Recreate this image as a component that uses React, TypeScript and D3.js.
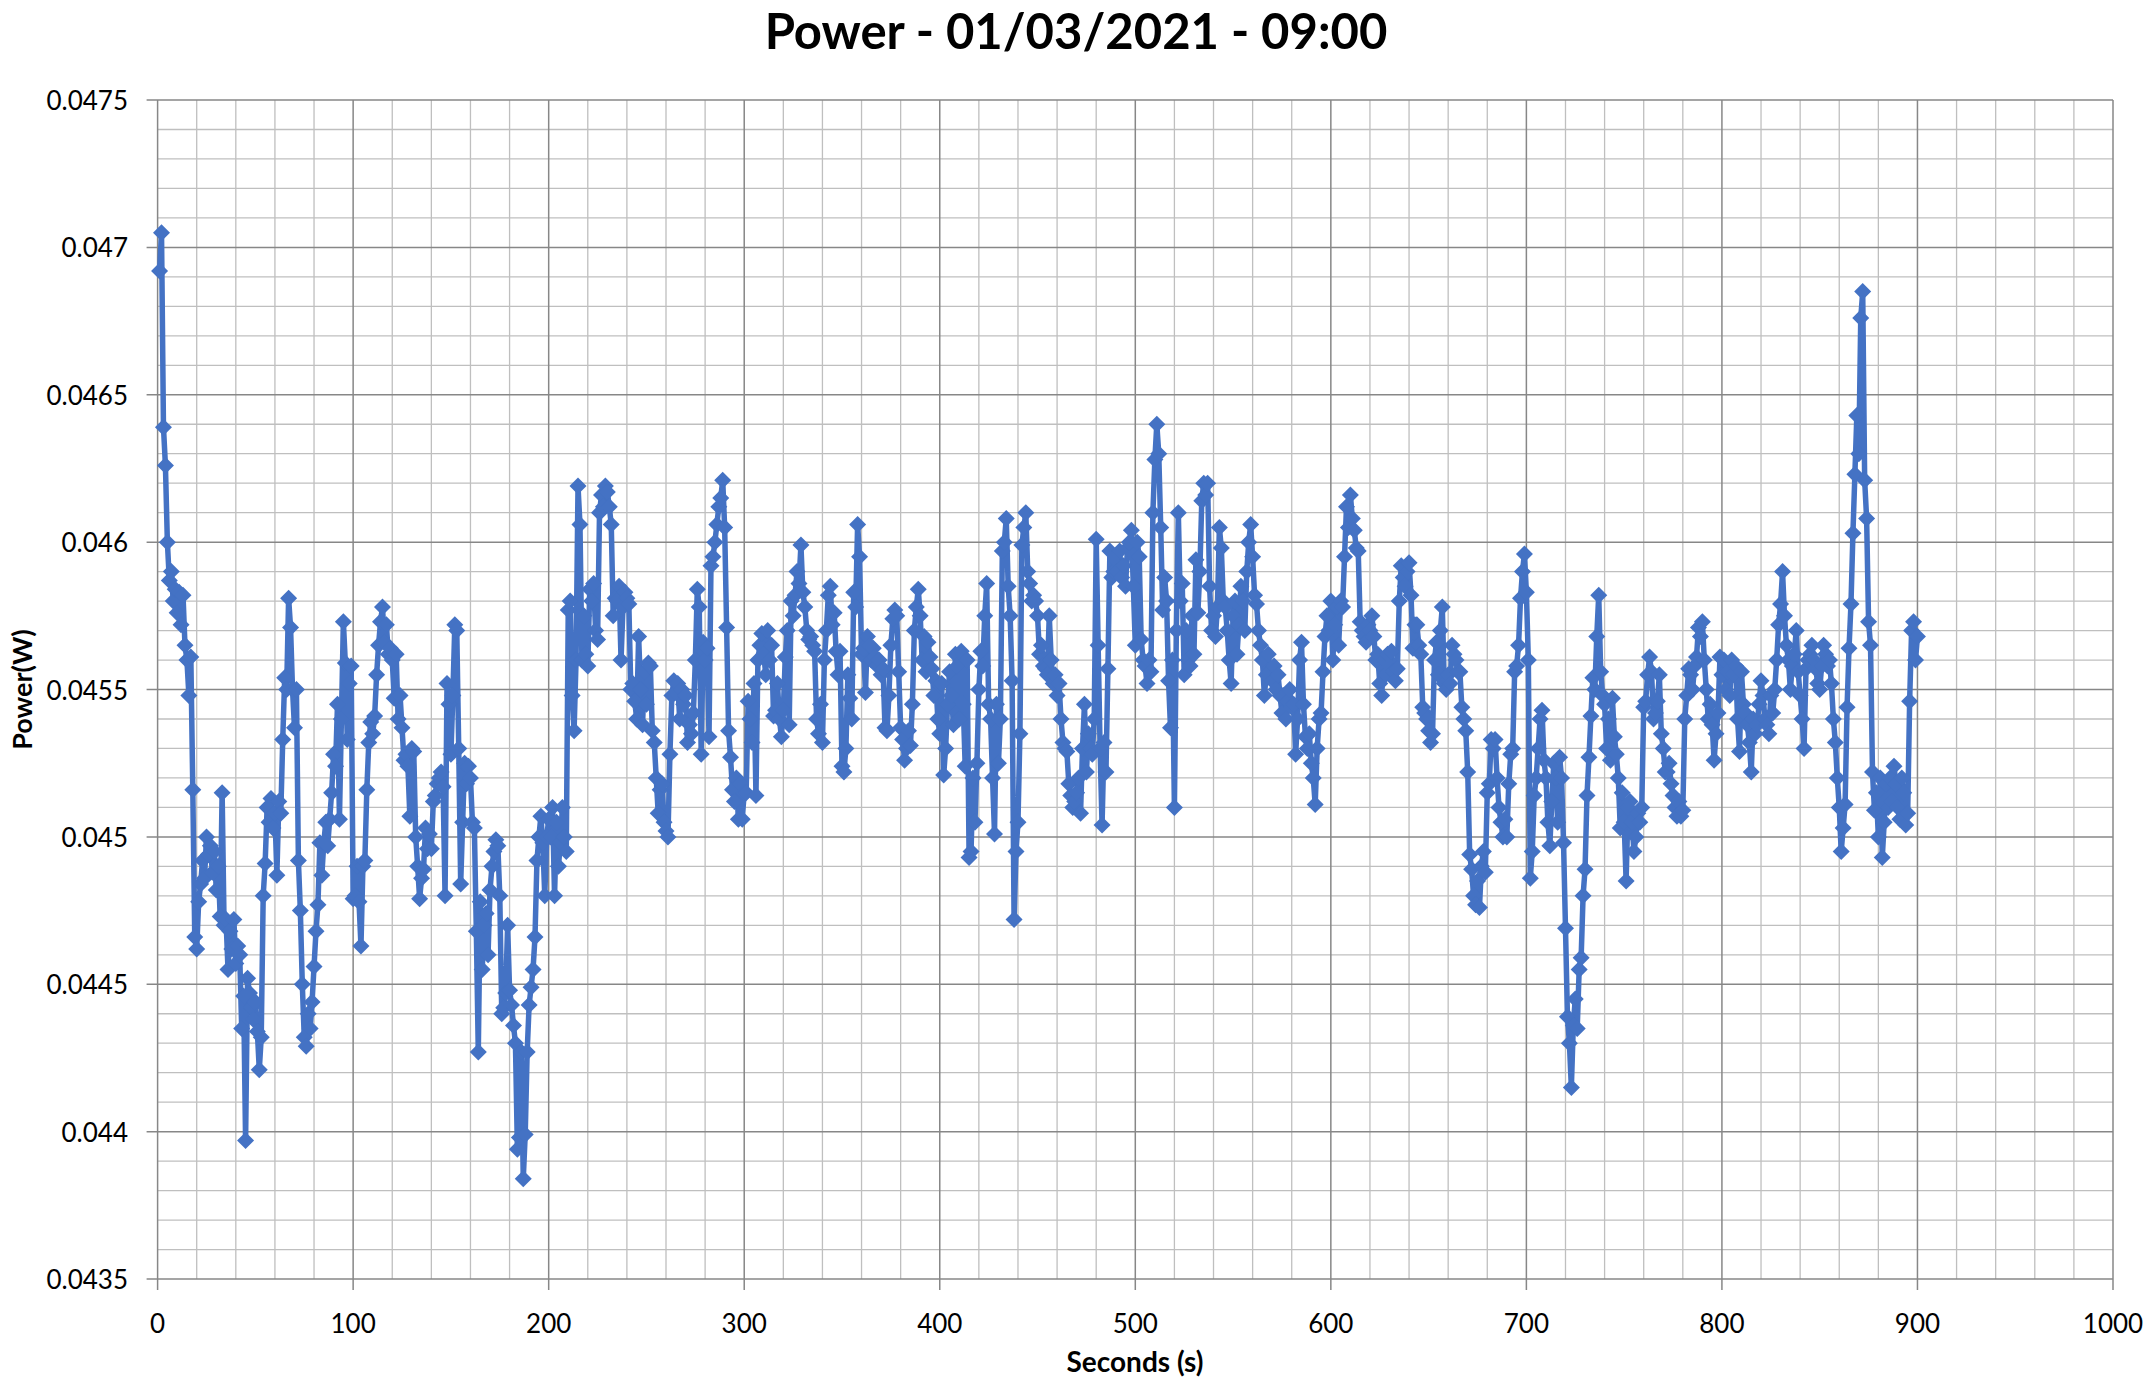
import React from "react";
import * as d3 from "d3";

// Power readings in milliwatts, one per second (t = 1..900)
const seg001 = [
  46.92, 47.05, 46.39, 46.26, 46.0, 45.87, 45.9, 45.8, 45.84, 45.76,
  45.83, 45.72, 45.82, 45.65, 45.6, 45.48, 45.61, 45.16, 44.66, 44.62,
  44.78, 44.84, 44.92, 44.86, 45.0, 44.94, 44.97, 44.88, 44.95, 44.82,
  44.9, 44.73, 45.15, 44.7, 44.72, 44.55, 44.68, 44.62, 44.72, 44.57,
  44.63, 44.6, 44.35, 44.46, 43.97, 44.52, 44.47, 44.42, 44.38, 44.44,
  44.34, 44.21, 44.32, 44.8, 44.91, 45.1, 45.05, 45.13, 45.03, 45.08,
  44.87, 45.12, 45.08, 45.33, 45.54, 45.5, 45.81, 45.71, 45.5, 45.37,
  45.5, 44.92, 44.75, 44.5, 44.32, 44.29, 44.4, 44.35, 44.44, 44.56,
  44.68, 44.77, 44.98, 44.87, 44.98, 45.05, 44.97, 45.06, 45.15, 45.28,
  45.24, 45.45, 45.06, 45.4, 45.73, 45.59, 45.33, 45.52, 45.58, 44.79,
];
const seg101 = [
  44.8, 44.9, 44.78, 44.63, 44.9, 44.92, 45.16, 45.32, 45.39, 45.35,
  45.41, 45.55, 45.65, 45.73, 45.78, 45.66, 45.72, 45.62, 45.64, 45.6,
  45.47, 45.62, 45.4, 45.48, 45.37, 45.26, 45.28, 45.24, 45.07, 45.3,
  45.29, 45.0, 44.9, 44.79, 44.86, 44.89, 45.03, 44.96, 45.01, 44.96,
  45.12, 45.14, 45.18, 45.2, 45.22, 45.17, 44.8, 45.52, 45.45, 45.28,
  45.48, 45.72, 45.7, 45.3, 44.84, 45.05, 45.25, 45.18, 45.24, 45.2,
  45.05, 45.03, 44.68, 44.27, 44.78, 44.55, 44.7, 44.74, 44.6, 44.82,
  44.9, 44.95, 44.99, 44.97, 44.8, 44.4, 44.42, 44.47, 44.7, 44.48,
  44.43, 44.36, 44.3, 43.94, 43.98, 44.27, 43.84, 43.99, 44.27, 44.43,
  44.49, 44.55, 44.66, 44.92, 45.0, 45.07, 44.98, 44.8, 45.0, 45.06,
];
const seg201 = [
  45.0, 45.1, 44.8, 45.05, 44.9, 44.98, 45.1, 45.0, 44.95, 45.77,
  45.8, 45.48, 45.36, 45.6, 46.19, 46.06, 45.6, 45.75, 45.62, 45.58,
  45.84, 45.8, 45.86, 45.7, 45.67, 46.1, 46.16, 46.12, 46.19, 46.17,
  46.12, 46.06, 45.75, 45.81, 45.8, 45.85, 45.6, 45.78, 45.83, 45.81,
  45.79, 45.5, 45.52, 45.46, 45.4, 45.68, 45.5, 45.38, 45.56, 45.45,
  45.59, 45.58, 45.36, 45.32, 45.2, 45.08, 45.16, 45.18, 45.05, 45.02,
  45.0, 45.28, 45.48, 45.53, 45.49, 45.52, 45.4, 45.5, 45.45, 45.48,
  45.32, 45.38, 45.35, 45.42, 45.6, 45.84, 45.78, 45.28, 45.66, 45.6,
  45.64, 45.34, 45.92, 45.95, 46.0, 46.06, 46.12, 46.15, 46.21, 46.05,
  45.71, 45.36, 45.27, 45.16, 45.12, 45.2, 45.06, 45.18, 45.06, 45.15,
];
const seg301 = [
  45.15, 45.46, 45.4, 45.32, 45.52, 45.14, 45.6, 45.65, 45.69, 45.62,
  45.55, 45.7, 45.6, 45.65, 45.41, 45.43, 45.52, 45.4, 45.34, 45.43,
  45.61, 45.7, 45.38, 45.8, 45.75, 45.82, 45.9, 45.86, 45.99, 45.83,
  45.78, 45.7, 45.67, 45.68, 45.65, 45.63, 45.4, 45.35, 45.45, 45.32,
  45.6, 45.7, 45.82, 45.85, 45.72, 45.76, 45.63, 45.55, 45.63, 45.24,
  45.22, 45.3, 45.55, 45.47, 45.4, 45.83, 45.78, 46.06, 45.95, 45.62,
  45.64, 45.49, 45.68, 45.65, 45.6, 45.64, 45.61, 45.58, 45.6, 45.55,
  45.57, 45.37, 45.36, 45.48, 45.65, 45.74, 45.77, 45.75, 45.56, 45.37,
  45.33, 45.26, 45.3, 45.36, 45.31, 45.45, 45.7, 45.78, 45.84, 45.75,
  45.6, 45.68, 45.56, 45.66, 45.61, 45.57, 45.48, 45.53, 45.4, 45.35,
];
const seg401 = [
  45.52, 45.21, 45.3, 45.45, 45.56, 45.48, 45.38, 45.62, 45.58, 45.4,
  45.63, 45.45, 45.24, 45.6, 44.93, 44.95, 45.2, 45.05, 45.25, 45.5,
  45.63, 45.58, 45.75, 45.86, 45.45, 45.4, 45.2, 45.01, 45.45, 45.25,
  45.4, 45.97, 46.0, 46.08, 45.85, 45.75, 45.53, 44.72, 44.95, 45.05,
  45.35, 45.99, 46.05, 46.1, 45.9, 45.86, 45.8, 45.82, 45.8, 45.75,
  45.62, 45.65, 45.58, 45.57, 45.55, 45.75, 45.6, 45.52, 45.55, 45.48,
  45.52, 45.4, 45.32, 45.3, 45.29, 45.18, 45.14, 45.1, 45.12, 45.15,
  45.2, 45.08, 45.3, 45.45, 45.22, 45.35, 45.3, 45.28, 45.4, 46.01,
  45.65, 45.3, 45.04, 45.32, 45.22, 45.57, 45.97, 45.88, 45.9, 45.94,
  45.9, 45.97, 45.88, 45.92, 45.85, 45.98, 46.0, 46.04, 45.85, 45.65,
];
const seg501 = [
  46.0, 45.95, 45.67, 45.6, 45.58, 45.52, 45.6, 45.56, 46.1, 46.28,
  46.4, 46.3, 46.05, 45.77, 45.88, 45.8, 45.53, 45.37, 45.6, 45.1,
  45.7, 46.1, 45.8, 45.86, 45.55, 45.7, 45.6, 45.58, 45.75, 45.62,
  45.94, 45.76, 45.9, 46.14, 46.2, 46.16, 46.2, 45.85, 45.7, 45.75,
  45.68, 45.78, 46.05, 45.98, 45.8, 45.78, 45.7, 45.6, 45.52, 45.75,
  45.8, 45.62, 45.72, 45.85, 45.8, 45.7, 45.9, 46.0, 46.06, 45.95,
  45.82, 45.79, 45.7, 45.65, 45.6, 45.48, 45.55, 45.62, 45.56, 45.53,
  45.58, 45.5, 45.55, 45.48, 45.42, 45.48, 45.4, 45.46, 45.5, 45.44,
  45.45, 45.28, 45.4, 45.6, 45.66, 45.45, 45.34, 45.3, 45.35, 45.25,
  45.2, 45.11, 45.3, 45.4, 45.42, 45.56, 45.68, 45.75, 45.7, 45.8,
];
const seg601 = [
  45.6, 45.72, 45.78, 45.65, 45.8, 45.78, 45.95, 46.12, 46.05, 46.16,
  46.08, 46.04, 45.98, 45.97, 45.73, 45.7, 45.68, 45.66, 45.72, 45.7,
  45.75, 45.68, 45.6, 45.62, 45.52, 45.48, 45.6, 45.55, 45.62, 45.58,
  45.63, 45.56, 45.53, 45.57, 45.8, 45.92, 45.88, 45.85, 45.9, 45.93,
  45.82, 45.64, 45.72, 45.72, 45.65, 45.62, 45.44, 45.42, 45.4, 45.36,
  45.32, 45.35, 45.6, 45.66, 45.55, 45.7, 45.78, 45.52, 45.5, 45.55,
  45.52, 45.65, 45.62, 45.6, 45.56, 45.56, 45.44, 45.4, 45.36, 45.22,
  44.94, 44.89, 44.8, 44.77, 44.85, 44.76, 44.9, 44.95, 44.88, 45.15,
  45.18, 45.33, 45.3, 45.33, 45.2, 45.1, 45.05, 45.0, 45.06, 45.0,
  45.18, 45.28, 45.3, 45.56, 45.58, 45.65, 45.81, 45.9, 45.96, 45.83,
];
const seg701 = [
  45.6, 44.86, 44.95, 45.14, 45.2, 45.3, 45.4, 45.43, 45.26, 45.2,
  45.05, 44.97, 45.12, 45.25, 45.2, 45.05, 45.27, 45.2, 44.98, 44.69,
  44.39, 44.3, 44.15, 44.36, 44.45, 44.35, 44.55, 44.59, 44.8, 44.89,
  45.14, 45.27, 45.41, 45.54, 45.5, 45.68, 45.82, 45.56, 45.48, 45.45,
  45.3, 45.4, 45.26, 45.47, 45.34, 45.28, 45.2, 45.03, 45.15, 45.05,
  44.85, 45.1, 45.12, 45.05, 44.95, 45.0, 45.08, 45.05, 45.1, 45.44,
  45.46, 45.55, 45.61, 45.56, 45.4, 45.42, 45.46, 45.55, 45.35, 45.3,
  45.22, 45.22, 45.25, 45.18, 45.14, 45.1, 45.07, 45.12, 45.07, 45.09,
  45.4, 45.48, 45.57, 45.55, 45.5, 45.58, 45.61, 45.71, 45.68, 45.73,
  45.6, 45.5, 45.4, 45.45, 45.38, 45.26, 45.35, 45.42, 45.61, 45.55,
];
const seg801 = [
  45.6, 45.5, 45.56, 45.48, 45.6, 45.55, 45.58, 45.4, 45.29, 45.56,
  45.45, 45.42, 45.38, 45.32, 45.22, 45.4, 45.35, 45.38, 45.45, 45.53,
  45.48, 45.4, 45.38, 45.35, 45.48, 45.42, 45.5, 45.6, 45.72, 45.79,
  45.9, 45.75, 45.65, 45.6, 45.5, 45.58, 45.62, 45.7, 45.56, 45.48,
  45.4, 45.3, 45.57, 45.6, 45.62, 45.65, 45.6, 45.57, 45.52, 45.5,
  45.58, 45.65, 45.62, 45.58, 45.6, 45.52, 45.4, 45.32, 45.2, 45.1,
  44.95, 45.03, 45.11, 45.44, 45.64, 45.79, 46.03, 46.23, 46.43, 46.3,
  46.76, 46.85, 46.21, 46.08, 45.73, 45.65, 45.22, 45.09, 45.15, 45.0,
  45.2, 44.93, 45.05, 45.18, 45.1, 45.2, 45.12, 45.24, 45.18, 45.1,
  45.06, 45.2, 45.15, 45.04, 45.08, 45.46, 45.7, 45.73, 45.6, 45.68,
];

const powerMilliW = [
  ...seg001, ...seg101, ...seg201, ...seg301, ...seg401,
  ...seg501, ...seg601, ...seg701, ...seg801,
];
const firstSecond = 1;

const xTickValues = [0, 100, 200, 300, 400, 500, 600, 700, 800, 900, 1000];
const yTickValues = [0.0435, 0.044, 0.0445, 0.045, 0.0455, 0.046, 0.0465, 0.047, 0.0475];
const yTickLabels = ["0.0435", "0.044", "0.0445", "0.045", "0.0455", "0.046", "0.0465", "0.047", "0.0475"];

const chartTitle = "Power - 01/03/2021 - 09:00";
const xTitle = "Seconds (s)";
const yTitle = "Power(W)";

const W = 2152;
const H = 1386;
const M = { left: 157.6, right: 2113, top: 100, bottom: 1279 };

const BLUE = "#4472C4";
const MAJOR = "#878787";
const MINOR = "#BFBFBF";
const FONT = "Lato, 'Liberation Sans', sans-serif";

export default function App() {
  const x = d3.scaleLinear().domain([0, 1000]).range([M.left, M.right]);
  const y = d3.scaleLinear().domain([0.0435, 0.0475]).range([M.bottom, M.top]);

  const pts: [number, number][] = powerMilliW.map((v, i) => [i + firstSecond, v / 1000]);
  const line = d3
    .line<[number, number]>()
    .x((d) => x(d[0]))
    .y((d) => y(d[1]));

  const minorX = d3.range(0, 1001, 20).filter((v) => v % 100 !== 0);
  const minorY = d3.range(0, 41).map((k) => 0.0435 + k * 0.0001).filter((_, k) => k % 5 !== 0);

  const diamond = "M0,-8.5L8.5,0L0,8.5L-8.5,0Z";

  return (
    <svg
      width={W}
      height={H}
      style={{ position: "absolute", left: 0, top: 0, background: "#fff", display: "block" }}
    >
      <rect x={0} y={0} width={W} height={H} fill="#fff" />
      {/* minor grid */}
      {minorX.map((v) => (
        <line key={"mx" + v} x1={x(v)} x2={x(v)} y1={M.top} y2={M.bottom} stroke={MINOR} strokeWidth={1.3} />
      ))}
      {minorY.map((v, i) => (
        <line key={"my" + i} x1={M.left} x2={M.right} y1={y(v)} y2={y(v)} stroke={MINOR} strokeWidth={1.3} />
      ))}
      {/* major grid + ticks */}
      {xTickValues.map((v) => (
        <line key={"Mx" + v} x1={x(v)} x2={x(v)} y1={M.top} y2={M.bottom + 11} stroke={MAJOR} strokeWidth={1.5} />
      ))}
      {yTickValues.map((v) => (
        <line key={"My" + v} x1={M.left - 11} x2={M.right} y1={y(v)} y2={y(v)} stroke={MAJOR} strokeWidth={1.5} />
      ))}
      {/* tick labels */}
      {xTickValues.map((v) => (
        <text key={"tx" + v} x={x(v)} y={1333} textAnchor="middle" fontFamily={FONT} fontSize={26} fill="#000">
          {v}
        </text>
      ))}
      {yTickValues.map((v, i) => (
        <text
          key={"ty" + v}
          x={128}
          y={y(v)}
          textAnchor="end"
          dominantBaseline="central"
          fontFamily={FONT}
          fontSize={26}
          fill="#000"
        >
          {yTickLabels[i]}
        </text>
      ))}
      {/* series */}
      <path d={line(pts) || ""} fill="none" stroke={BLUE} strokeWidth={5.5} strokeLinejoin="round" strokeLinecap="round" />
      {pts.map((d, i) => (
        <path key={"m" + i} d={diamond} transform={`translate(${x(d[0])},${y(d[1])})`} fill={BLUE} />
      ))}
      {/* titles */}
      <text x={1076} y={49} textAnchor="middle" fontFamily={FONT} fontWeight="bold" fontSize={49} fill="#000">
        {chartTitle}
      </text>
      <text x={1135} y={1372} textAnchor="middle" fontFamily={FONT} fontWeight="bold" fontSize={28} fill="#000">
        {xTitle}
      </text>
      <text
        transform={`translate(21,${(M.top + M.bottom) / 2}) rotate(-90)`}
        textAnchor="middle"
        dominantBaseline="central"
        fontFamily={FONT}
        fontWeight="bold"
        fontSize={27}
        fill="#000"
      >
        {yTitle}
      </text>
    </svg>
  );
}
